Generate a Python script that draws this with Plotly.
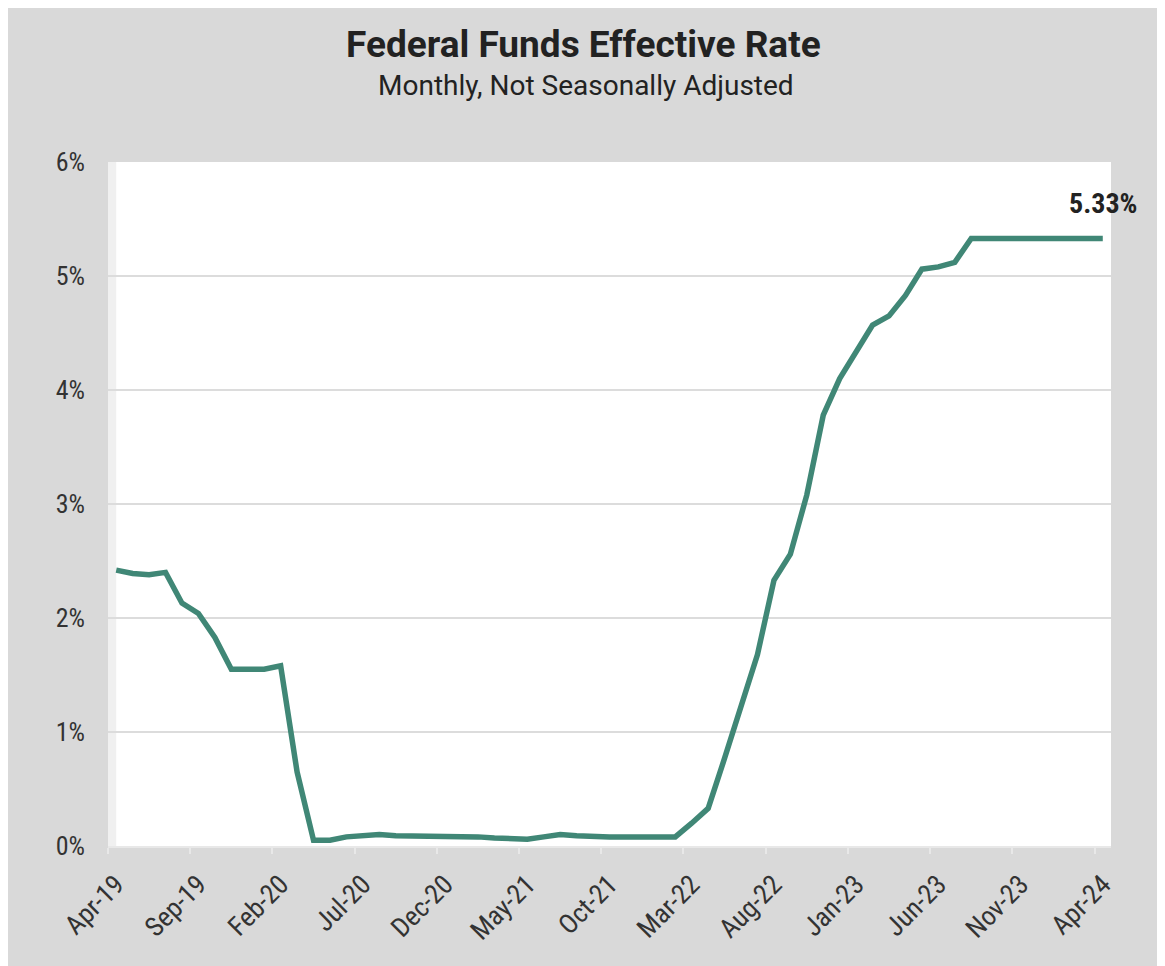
import pandas as pd
import plotly.graph_objects as go

# Months Apr-2019 .. Apr-2024 (category labels)
months = [d.strftime("%b-%y") for d in pd.date_range("2019-04-01", "2024-04-01", freq="MS")]

rates = [
    2.42, 2.39, 2.38, 2.40, 2.13, 2.04, 1.83, 1.55, 1.55,            # Apr-Dec 2019
    1.55, 1.58, 0.65, 0.05, 0.05, 0.08, 0.09, 0.10, 0.09, 0.09, 0.09, 0.09,  # 2020
    0.09, 0.08, 0.07, 0.07, 0.06, 0.08, 0.10, 0.09, 0.08, 0.08, 0.08, 0.08,  # 2021
    0.08, 0.08, 0.20, 0.33, 0.77, 1.21, 1.68, 2.33, 2.56, 3.08, 3.78, 4.10,  # 2022
    4.33, 4.57, 4.65, 4.83, 5.06, 5.08, 5.12, 5.33, 5.33, 5.33, 5.33, 5.33,  # 2023
    5.33, 5.33, 5.33, 5.33,                                            # Jan-Apr 2024
]

y_ticks = [0, 1, 2, 3, 4, 5, 6]
y_ticktext = [f"{v}%" for v in y_ticks]

title_text = "Federal Funds Effective Rate"
subtitle_text = "Monthly, Not Seasonally Adjusted"

BG = "#d9d9d9"
LINE = "#408776"
COND = "Roboto Condensed, Liberation Sans Narrow, Roboto, sans-serif"

fig = go.Figure()
fig.add_trace(go.Scatter(
    x=months, y=rates, mode="lines",
    line=dict(color=LINE, width=5.5),
    hoverinfo="x+y", showlegend=False,
))

n = len(months)
fig.add_shape(type="rect", xref="x", yref="y", x0=-0.5, x1=0, y0=0, y1=6,
              fillcolor="#f0f0f0", line=dict(width=0), layer="below")

fig.add_annotation(x=months[-1], y=rates[-1], text=f"<b>{rates[-1]:.2f}%</b>",
                   showarrow=False, yshift=35, xanchor="center", yanchor="middle",
                   font=dict(family=COND, size=28, color="#222222"))

fig.add_annotation(x=0.4736, y=1.172, xref="paper", yref="paper", text=f"<b>{title_text}</b>",
                   showarrow=False, xanchor="center", yanchor="middle",
                   font=dict(family="Roboto, sans-serif", size=37, color="#222222"))
fig.add_annotation(x=0.4770, y=1.112, xref="paper", yref="paper", text=subtitle_text,
                   showarrow=False, xanchor="center", yanchor="middle",
                   font=dict(family="Roboto, sans-serif", size=28, color="#222222"))

fig.update_layout(
    width=1165, height=966,
    margin=dict(l=100, r=62, t=154, b=128),
    paper_bgcolor=BG, plot_bgcolor="white",
    xaxis=dict(
        type="category", categoryorder="array", categoryarray=months,
        range=[-0.5, n - 0.5], tickmode="linear", dtick=5, tick0=0,
        tickson="boundaries", ticks="outside", ticklen=6, tickcolor="#e8e8e8", tickwidth=2,
        tickangle=-45, showgrid=False, showline=True, linecolor="#e8e8e8", linewidth=2,
        ticklabelstandoff=10,
        tickfont=dict(family=COND, size=27, color="#333333"), zeroline=False,
    ),
    yaxis=dict(
        range=[0, 6], tickvals=y_ticks, ticktext=y_ticktext,
        showgrid=True, gridcolor="#dcdcdc", gridwidth=2, zeroline=False,
        showline=False, ticks="", ticklabelstandoff=22,
        tickfont=dict(family=COND, size=26, color="#333333"),
    ),
)

fig.write_html("out.html")
